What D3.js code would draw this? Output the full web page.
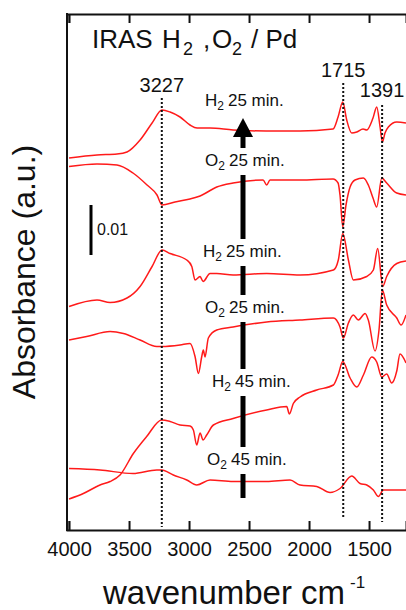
<!DOCTYPE html>
<html><head><meta charset="utf-8">
<script src="https://cdn.jsdelivr.net/npm/d3@7"></script>
<style>
body{margin:0;background:#fff}
svg{display:block}
text{font-family:"Liberation Sans",Arial,Helvetica,sans-serif;fill:#111}
</style>
</head><body>
<svg id="c" width="406" height="610"></svg>
<script>
// ---------- data ----------
const xTicks = [4000, 3500, 3000, 2500, 2000, 1500];
const peakPositions = [3227, 1715, 1391];
const peakLabels = ["3227", "1715", "1391"];
const labelGas = ["H", "O", "H", "O", "H", "O"];
const labelTime = ["25 min.", "25 min.", "25 min.", "25 min.", "45 min.", "45 min."];
const scaleBarValue = 0.01;

// spectrum 1 (top, H2 25 min.)
const s1Wn  = [4000,3767,3600,3517,3408,3308,3225,3158,3075,2992,2933,2825,2633,2358,2075,1800,1758,1719,1686,1644,1602,1550,1519,1467,1436,1408,1389,1367,1339,1269,1192];
const s1Abs = [0.0744,0.0750,0.0752,0.0756,0.0780,0.0814,0.0840,0.0836,0.0826,0.0810,0.0804,0.0804,0.0800,0.0798,0.0798,0.0802,0.0826,0.0856,0.0820,0.0794,0.0796,0.0802,0.0800,0.0824,0.0846,0.0806,0.0776,0.0794,0.0806,0.0816,0.0814];
// spectrum 2 (O2 25 min.)
const s2Wn  = [4000,3767,3600,3467,3350,3267,3225,3117,2992,2908,2769,2633,2383,2353,2325,2075,1800,1758,1742,1719,1692,1658,1617,1547,1506,1467,1436,1394,1353,1269,1192];
const s2Abs = [0.0727,0.0732,0.0730,0.0714,0.0690,0.0670,0.0650,0.0656,0.0662,0.0668,0.0686,0.0694,0.0700,0.0690,0.0700,0.0700,0.0702,0.0694,0.0670,0.0606,0.0650,0.0686,0.0700,0.0704,0.0690,0.0664,0.0646,0.0704,0.0694,0.0674,0.0670];
// spectrum 3 (H2 25 min.)
const s3Wn  = [4000,3767,3658,3517,3408,3308,3225,3158,3019,2977,2950,2908,2883,2825,2769,2633,2353,2075,1797,1756,1719,1672,1631,1519,1464,1428,1386,1353,1269,1192];
const s3Abs = [0.0447,0.0460,0.0455,0.0464,0.0487,0.0527,0.0560,0.0553,0.0540,0.0527,0.0500,0.0507,0.0497,0.0513,0.0513,0.0510,0.0513,0.0510,0.0520,0.0540,0.0593,0.0540,0.0500,0.0507,0.0520,0.0563,0.0487,0.0507,0.0533,0.0538];
// spectrum 4 (O2 25 min.)
const s4Wn  = [4000,3853,3658,3547,3408,3269,3225,3075,2992,2950,2922,2894,2881,2867,2839,2769,2633,2353,2075,1797,1742,1714,1672,1631,1589,1533,1506,1450,1417,1389,1353,1269,1233,1192];
const s4Abs = [0.0380,0.0387,0.0397,0.0393,0.0380,0.0367,0.0367,0.0370,0.0373,0.0347,0.0313,0.0347,0.0360,0.0346,0.0384,0.0400,0.0406,0.0416,0.0420,0.0424,0.0406,0.0384,0.0414,0.0430,0.0420,0.0433,0.0420,0.0358,0.0400,0.0480,0.0450,0.0424,0.0410,0.0430];
// spectrum 5 (H2 45 min.)
const s5Wn  = [4000,3881,3742,3658,3575,3464,3353,3228,3158,3075,2992,2964,2936,2908,2883,2853,2797,2633,2353,2186,2164,2131,2075,1936,1797,1758,1719,1658,1602,1547,1478,1436,1394,1353,1311,1269,1242,1192];
const s5Abs = [0.0062,0.0073,0.0090,0.0097,0.0110,0.0153,0.0187,0.0220,0.0217,0.0210,0.0208,0.0200,0.0170,0.0194,0.0180,0.0190,0.0210,0.0223,0.0240,0.0247,0.0232,0.0253,0.0266,0.0280,0.0290,0.0310,0.0337,0.0304,0.0286,0.0310,0.0346,0.0336,0.0306,0.0312,0.0294,0.0318,0.0352,0.0334];
// spectrum 6 (bottom, O2 45 min.)
const s6Wn  = [4000,3742,3467,3269,3228,3131,3019,2936,2825,2633,2353,2158,2075,1936,1825,1742,1644,1575,1519,1464,1422,1381,1297,1192];
const s6Abs = [0.0123,0.0120,0.0113,0.0120,0.0120,0.0110,0.0100,0.0090,0.0100,0.0097,0.0097,0.0100,0.0090,0.0087,0.0075,0.0083,0.0108,0.0093,0.0090,0.0080,0.0067,0.0080,0.0080,0.0080];

const spectraWn  = [s1Wn, s2Wn, s3Wn, s4Wn, s5Wn, s6Wn];
const spectraAbs = [s1Abs, s2Abs, s3Abs, s4Abs, s5Abs, s6Abs];

(function () {
// ---------- layout ----------
const pL = 67, pR = 406, pT = 14, pB = 530;
const svg = d3.select("#c");

const x = d3.scaleLinear().domain([4017, 1192]).range([pL, pR]);
const y = d3.scaleLinear().domain([0, 0.1032]).range([pB, pT]);

// spectra
const line = d3.line().x(d => x(d[0])).y(d => y(d[1])).curve(d3.curveMonotoneX);
spectraWn.forEach((wn, i) => {
  const pts = wn.map((w, j) => [w, spectraAbs[i][j]]);
  svg.append("path").attr("d", line(pts))
    .attr("fill", "none").attr("stroke", "#ff1a1a").attr("stroke-width", 1.5)
    .attr("stroke-linejoin", "round");
});

// dotted marker lines
const dotTop = [98, 83, 105], dotBot = [527, 517, 522];
peakPositions.forEach((p, i) => {
  svg.append("line").attr("x1", x(p)).attr("x2", x(p))
    .attr("y1", dotTop[i]).attr("y2", dotBot[i])
    .attr("stroke", "#111").attr("stroke-width", 2).attr("stroke-dasharray", "2,2");
});
const peakLabelY = [92, 77, 97];
peakPositions.forEach((p, i) => {
  svg.append("text").attr("x", x(p)).attr("y", peakLabelY[i])
    .attr("text-anchor", "middle").attr("font-size", 20).text(peakLabels[i]);
});

// axes
const gB = svg.append("g").attr("transform", `translate(0,${pB})`)
  .call(d3.axisBottom(x).tickValues(xTicks).tickSize(-9).tickPadding(12).tickFormat(d3.format("d")));
gB.select(".domain").attr("stroke", "#111").attr("stroke-width", 2);
gB.selectAll(".tick line").attr("stroke", "#111").attr("stroke-width", 2);
gB.selectAll(".tick text").attr("font-size", 20).attr("fill", "#111")
  .attr("font-family", '"Liberation Sans",Arial,sans-serif');

const gT = svg.append("g").attr("transform", `translate(0,${pT})`)
  .call(d3.axisTop(x).tickValues(xTicks).tickSize(-9).tickFormat(""));
gT.select(".domain").attr("stroke", "#111").attr("stroke-width", 2);
gT.selectAll(".tick line").attr("stroke", "#111").attr("stroke-width", 2);

svg.append("line").attr("x1", pL).attr("x2", pL).attr("y1", pT - 1).attr("y2", pB + 1)
  .attr("stroke", "#111").attr("stroke-width", 2);

// title
const title = svg.append("text").attr("y", 48).attr("font-size", 26);
title.append("tspan").attr("x", 92).text("IRAS");
title.append("tspan").attr("x", 162).text("H");
title.append("tspan").attr("x", 183).attr("dy", 7).attr("font-size", 18).text("2");
title.append("tspan").attr("x", 203).attr("dy", -7).text(",");
title.append("tspan").attr("x", 212).text("O");
title.append("tspan").attr("x", 232).attr("dy", 7).attr("font-size", 18).text("2");
title.append("tspan").attr("x", 251).attr("dy", -7).text("/ Pd");

// series labels
const labelX = [205, 205, 203, 205, 212, 207];
const labelY = [106, 166, 257, 313, 387, 465];
labelGas.forEach((g, i) => {
  const t = svg.append("text").attr("x", labelX[i]).attr("y", labelY[i]).attr("font-size", 17);
  t.append("tspan").text(g);
  t.append("tspan").attr("dy", 4).attr("font-size", 12).text("2");
  t.append("tspan").attr("dy", -4).attr("dx", 4).text(labelTime[i]);
});

// arrow (shaft broken behind labels)
const ax = 243, shaftBottom = 498, headBase = 137, headTip = 118;
const gaps = labelY.slice(1).map(b => [b - 18, b + 9]).sort((a, b) => b[0] - a[0]);
let cur = shaftBottom;
gaps.forEach(g => {
  svg.append("line").attr("x1", ax).attr("x2", ax).attr("y1", cur).attr("y2", g[1])
    .attr("stroke", "#000").attr("stroke-width", 5);
  cur = g[0];
});
svg.append("line").attr("x1", ax).attr("x2", ax).attr("y1", cur).attr("y2", headBase)
  .attr("stroke", "#000").attr("stroke-width", 5);
svg.append("path").attr("d", `M${ax},${headTip}L${ax + 10},${headBase}L${ax - 10},${headBase}Z`).attr("fill", "#000");

// scale bar
const sbBase = 0.055;
svg.append("line").attr("x1", 91).attr("x2", 91)
  .attr("y1", y(sbBase)).attr("y2", y(sbBase + scaleBarValue))
  .attr("stroke", "#000").attr("stroke-width", 3);
svg.append("text").attr("x", 97).attr("y", 235).attr("font-size", 16).text("0.01");

// axis labels
svg.append("text").attr("transform", "translate(35,272) rotate(-90)")
  .attr("text-anchor", "middle").attr("font-size", 32).text("Absorbance (a.u.)");
const xl = svg.append("text").attr("x", 103).attr("y", 604).attr("font-size", 33);
xl.append("tspan").text("wavenumber cm");
xl.append("tspan").attr("dx", 5).attr("dy", -16).attr("font-size", 17).text("-1");
})();
</script>
</body></html>
